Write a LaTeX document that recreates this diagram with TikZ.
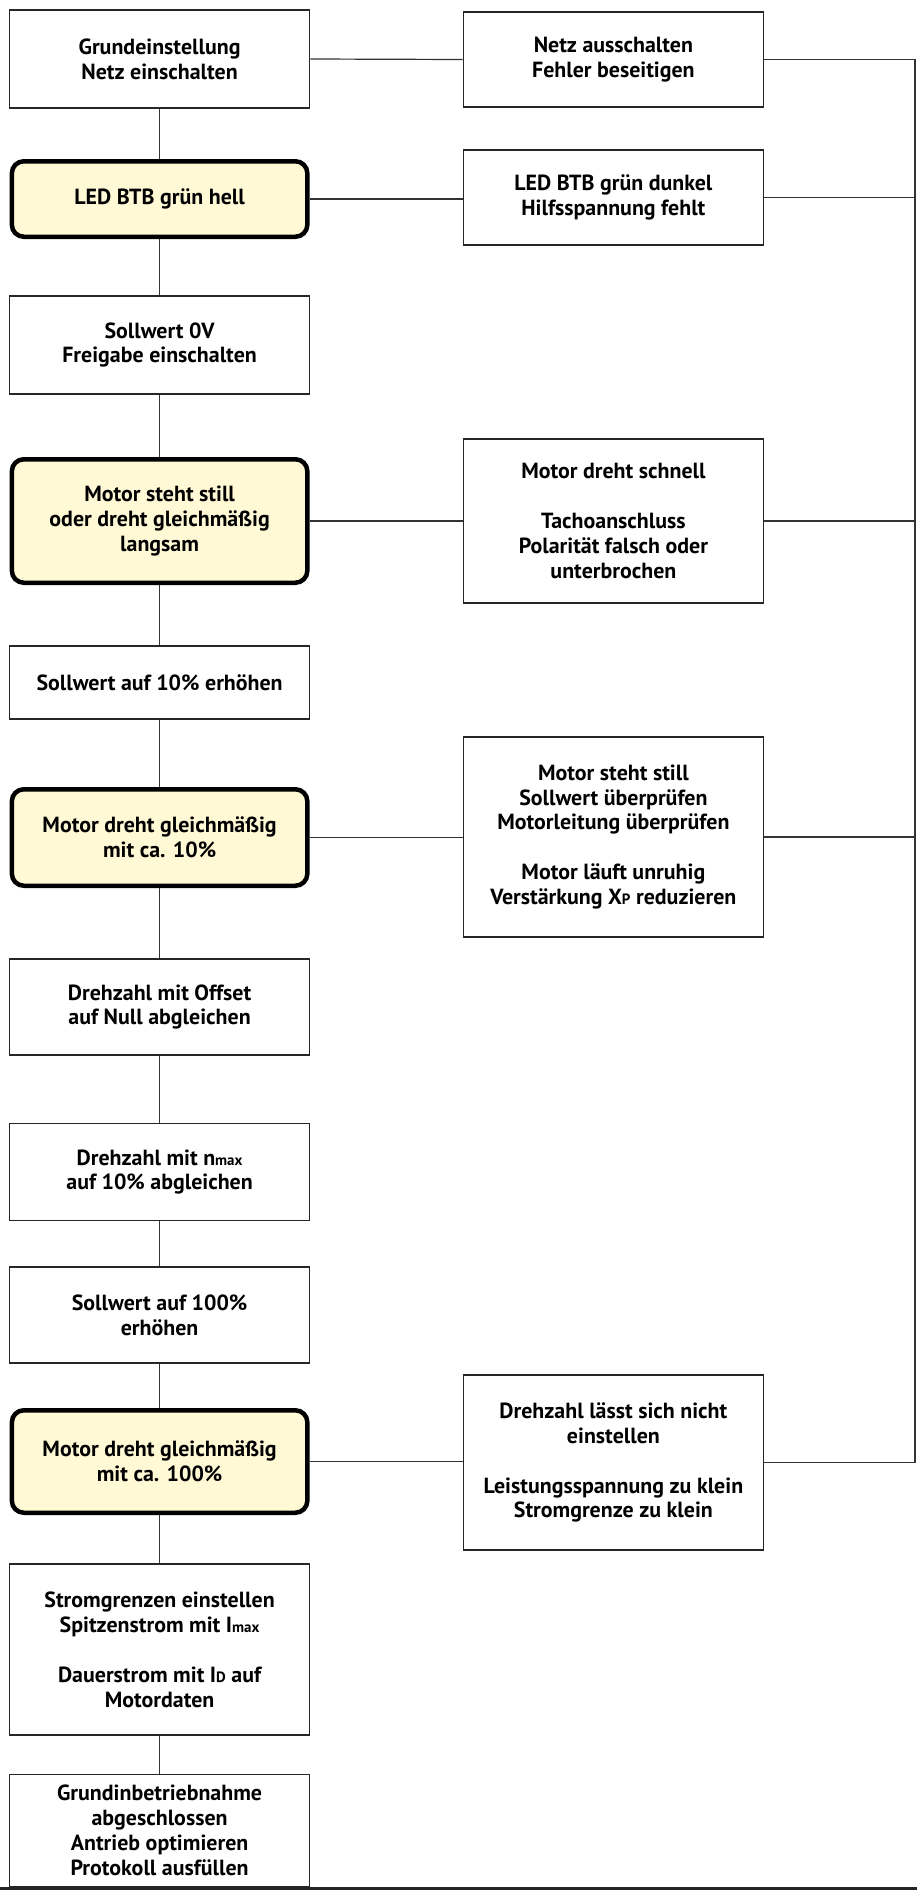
\documentclass[tikz,border=0pt]{standalone}
\usepackage{fontspec}
\setmainfont{PT Sans}
\definecolor{keyfill}{RGB}{255,249,214}
\newcommand{\bfont}{\fontsize{22}{25}\selectfont\bfseries}
\newcommand{\sm}[1]{{\fontsize{15}{15}\selectfont #1}}
\begin{document}
\begin{tikzpicture}[x=1bp,y=-1bp,
  box/.style={draw=black!85, line width=1.6bp, fill=white, minimum width=300bp, align=center, inner sep=0pt, font=\bfont},
  key/.style={box, draw=black, line width=4.5bp, rounded corners=12bp, fill=keyfill, minimum width=295.5bp},
  link/.style={draw=black!80, line width=1.2bp}]
\useasboundingbox (0,0) rectangle (917,1890);

% left column
\node[box, minimum height=98bp] (b1) at (159.6,59) {Grundeinstellung\\Netz einschalten};
\node[key, minimum height=75.5bp] (b2) at (159.6,199) {LED BTB grün hell};
\node[box, minimum height=98bp] (b3) at (159.6,345) {Sollwert 0V\\Freigabe einschalten};
\node[key, minimum height=123.5bp] (b4) at (159.6,521) {Motor steht still\\oder dreht gleichmäßig\\langsam};
\node[box, minimum height=73bp] (b5) at (159.6,682.5) {Sollwert auf 10\% erhöhen};
\node[key, minimum height=96.5bp] (b6) at (159.6,837.5) {Motor dreht gleichmäßig\\mit ca. 10\%};
\node[box, minimum height=96bp] (b7) at (159.6,1007) {Drehzahl mit Offset\\auf Null abgleichen};
\node[box, minimum height=97bp] (b8) at (159.6,1172) {Drehzahl mit n\sm{max}\\auf 10\% abgleichen};
\node[box, minimum height=96bp] (b9) at (159.6,1315) {Sollwert auf 100\%\\erhöhen};
\node[key, minimum height=102.5bp] (b10) at (159.6,1461.5) {Motor dreht gleichmäßig\\mit ca. 100\%};
\node[box, minimum height=171bp] (b11) at (159.6,1649.5) {Stromgrenzen einstellen\\Spitzenstrom mit I\sm{max}\\[25bp]Dauerstrom mit I\sm{D} auf\\Motordaten};
\node[box, minimum height=112bp] (b12) at (159.6,1830.5) {Grundinbetriebnahme\\abgeschlossen\\Antrieb optimieren\\Protokoll ausfüllen};

% right column
\node[box, minimum height=95bp] (r1) at (613.4,59.5) {Netz ausschalten\\Fehler beseitigen};
\node[box, minimum height=95bp] (r2) at (613.4,197.5) {LED BTB grün dunkel\\Hilfsspannung fehlt};
\node[box, minimum height=164bp] (r3) at (613.4,521) {Motor dreht schnell\\[25bp]Tachoanschluss\\Polarität falsch oder\\unterbrochen};
\node[box, minimum height=200bp] (r4) at (613.4,837) {Motor steht still\\Sollwert überprüfen\\Motorleitung überprüfen\\[25bp]Motor läuft unruhig\\Verstärkung X\sm{P} reduzieren};
\node[box, minimum height=175bp] (r5) at (613.4,1462.5) {Drehzahl lässt sich nicht\\einstellen\\[25bp]Leistungsspannung zu klein\\Stromgrenze zu klein};

% vertical chain
\draw[link] (b1) -- (b2);
\draw[link] (b2) -- (b3);
\draw[link] (b3) -- (b4);
\draw[link] (b4) -- (b5);
\draw[link] (b5) -- (b6);
\draw[link] (b6) -- (b7);
\draw[link] (b7) -- (b8);
\draw[link] (b8) -- (b9);
\draw[link] (b9) -- (b10);
\draw[link] (b10) -- (b11);
\draw[link] (b11) -- (b12);

% horizontal links
\draw[link] (b1.east) -- (r1.west);
\draw[link] (b2.east) -- (b2.east -| r2.west);
\draw[link] (b4.east) -- (r3.west);
\draw[link] (b6.east) -- (b6.east -| r4.west);
\draw[link] (b10.east) -- (b10.east -| r5.west);

% right return line
\coordinate (t1) at (915,59.5);
\coordinate (t5) at (915,1462.5);
\draw[link] (r1.east) -- (t1) -- (t5) -- (r5.east);
\draw[link] (r2.east) -- (r2.east -| t1);
\draw[link] (r3.east) -- (r3.east -| t1);
\draw[link] (r4.east) -- (r4.east -| t1);

% bottom rule
\coordinate (bl) at (0,1888.5);
\coordinate (br) at (917,1888.5);
\draw[line width=3bp, black!85] (bl) -- (br);
\end{tikzpicture}
\end{document}
